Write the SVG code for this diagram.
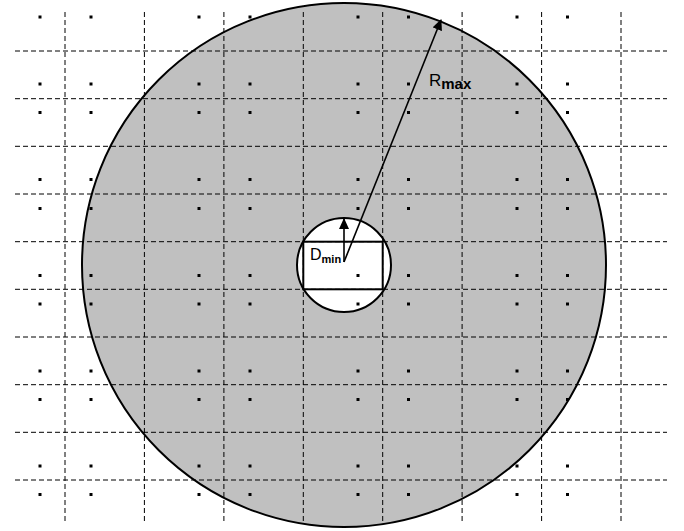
<svg xmlns="http://www.w3.org/2000/svg" width="684" height="531" viewBox="0 0 684 531">
  <style>
    .grid line { stroke: #000; stroke-width: 1; stroke-dasharray: 5 3; }
    .dot { fill: #000; }
    .edge { stroke: #000; stroke-width: 2; }
    .lbl { font-family: "Liberation Sans", Arial, sans-serif; fill: #000; }
  </style>
  <defs>
    <marker id="ah" markerWidth="11" markerHeight="10" refX="10" refY="5" orient="auto" markerUnits="userSpaceOnUse">
      <path d="M0,0 L11,5 L0,10 Z" fill="#000"/>
    </marker>
    <rect id="d" x="-1.5" y="-1.5" width="3" height="3" class="dot"/>
  </defs>
  <rect width="684" height="531" fill="#fff"/>

  <g id="outer-circle">
    <circle cx="344" cy="265" r="262" fill="#c0c0c0" class="edge"/>
  </g>
  <g id="inner-circle">
    <circle cx="344" cy="265" r="47" fill="#fff" class="edge"/>
  </g>
  <g id="cell">
    <rect x="303.3" y="241.7" width="79.4" height="47.6" fill="none" class="edge"/>
  </g>

  <g id="grid" class="grid">
    <line x1="15" y1="51" x2="667" y2="51"/>
    <line x1="15" y1="98.7" x2="667" y2="98.7"/>
    <line x1="15" y1="146.3" x2="667" y2="146.3"/>
    <line x1="15" y1="194" x2="667" y2="194"/>
    <line x1="15" y1="241.7" x2="667" y2="241.7"/>
    <line x1="15" y1="289.3" x2="667" y2="289.3"/>
    <line x1="15" y1="337" x2="667" y2="337"/>
    <line x1="15" y1="384.7" x2="667" y2="384.7"/>
    <line x1="15" y1="432.3" x2="667" y2="432.3"/>
    <line x1="15" y1="480" x2="667" y2="480"/>
    <line x1="65" y1="12" x2="65" y2="523"/>
    <line x1="144.4" y1="12" x2="144.4" y2="523"/>
    <line x1="223.9" y1="12" x2="223.9" y2="523"/>
    <line x1="303.3" y1="12" x2="303.3" y2="523"/>
    <line x1="382.7" y1="12" x2="382.7" y2="523"/>
    <line x1="462.1" y1="12" x2="462.1" y2="523"/>
    <line x1="541.6" y1="12" x2="541.6" y2="523"/>
    <line x1="621" y1="12" x2="621" y2="523"/>
  </g>

  <g id="dots">
    <g transform="translate(0,17)"><use href="#d" x="40"/><use href="#d" x="91"/><use href="#d" x="199"/><use href="#d" x="250"/><use href="#d" x="358"/><use href="#d" x="408.5"/><use href="#d" x="517"/><use href="#d" x="567.5"/></g>
    <g transform="translate(0,84)"><use href="#d" x="40"/><use href="#d" x="91"/><use href="#d" x="199"/><use href="#d" x="250"/><use href="#d" x="358"/><use href="#d" x="408.5"/><use href="#d" x="517"/><use href="#d" x="567.5"/></g>
    <g transform="translate(0,112.5)"><use href="#d" x="40"/><use href="#d" x="91"/><use href="#d" x="199"/><use href="#d" x="250"/><use href="#d" x="358"/><use href="#d" x="408.5"/><use href="#d" x="517"/><use href="#d" x="567.5"/></g>
    <g transform="translate(0,179.5)"><use href="#d" x="40"/><use href="#d" x="91"/><use href="#d" x="199"/><use href="#d" x="250"/><use href="#d" x="358"/><use href="#d" x="408.5"/><use href="#d" x="517"/><use href="#d" x="567.5"/></g>
    <g transform="translate(0,208.5)"><use href="#d" x="40"/><use href="#d" x="91"/><use href="#d" x="199"/><use href="#d" x="250"/><use href="#d" x="358"/><use href="#d" x="408.5"/><use href="#d" x="517"/><use href="#d" x="567.5"/></g>
    <g transform="translate(0,275.5)"><use href="#d" x="40"/><use href="#d" x="91"/><use href="#d" x="199"/><use href="#d" x="250"/><use href="#d" x="358"/><use href="#d" x="408.5"/><use href="#d" x="517"/><use href="#d" x="567.5"/></g>
    <g transform="translate(0,304)"><use href="#d" x="40"/><use href="#d" x="91"/><use href="#d" x="199"/><use href="#d" x="250"/><use href="#d" x="358"/><use href="#d" x="408.5"/><use href="#d" x="517"/><use href="#d" x="567.5"/></g>
    <g transform="translate(0,371)"><use href="#d" x="40"/><use href="#d" x="91"/><use href="#d" x="199"/><use href="#d" x="250"/><use href="#d" x="358"/><use href="#d" x="408.5"/><use href="#d" x="517"/><use href="#d" x="567.5"/></g>
    <g transform="translate(0,399.5)"><use href="#d" x="40"/><use href="#d" x="91"/><use href="#d" x="199"/><use href="#d" x="250"/><use href="#d" x="358"/><use href="#d" x="408.5"/><use href="#d" x="517"/><use href="#d" x="567.5"/></g>
    <g transform="translate(0,466)"><use href="#d" x="40"/><use href="#d" x="91"/><use href="#d" x="199"/><use href="#d" x="250"/><use href="#d" x="358"/><use href="#d" x="408.5"/><use href="#d" x="517"/><use href="#d" x="567.5"/></g>
    <g transform="translate(0,494.5)"><use href="#d" x="40"/><use href="#d" x="91"/><use href="#d" x="199"/><use href="#d" x="250"/><use href="#d" x="358"/><use href="#d" x="408.5"/><use href="#d" x="517"/><use href="#d" x="567.5"/></g>
  </g>

  <g id="connectors" stroke="#000" stroke-width="1.6" fill="none">
    <line x1="344" y1="262" x2="344" y2="219" marker-end="url(#ah)"/>
    <line x1="344" y1="262" x2="441" y2="20" marker-end="url(#ah)"/>
  </g>

  <g id="labels" class="lbl">
    <text x="310" y="260" font-size="16">D<tspan font-size="11" font-weight="bold" dy="3">min</tspan></text>
    <text x="429" y="86" font-size="17">R<tspan font-size="15" font-weight="bold" dy="3">max</tspan></text>
  </g>
</svg>
